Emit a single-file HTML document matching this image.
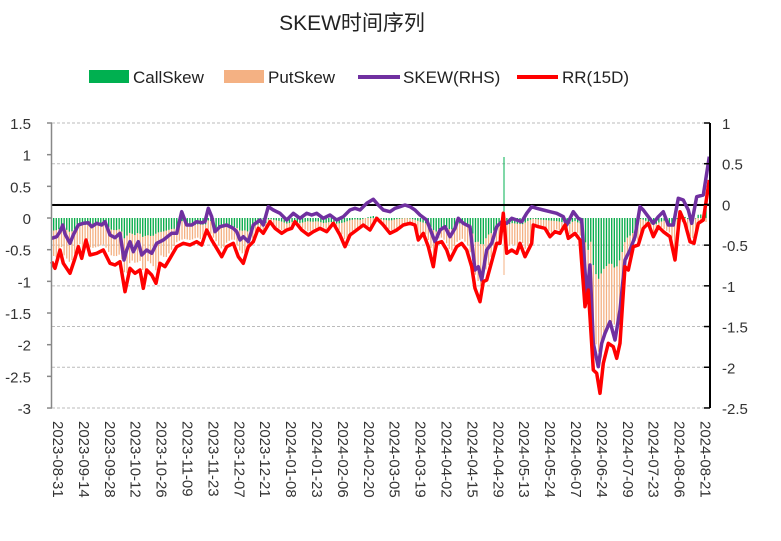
<!DOCTYPE html>
<html><head><meta charset="utf-8"><style>
body{margin:0;background:#fff;}
svg{display:block;font-family:"Liberation Sans","Noto Sans CJK SC",sans-serif;}
</style></head><body>
<svg id="s" width="781" height="541" xmlns="http://www.w3.org/2000/svg">
<rect width="781" height="541" fill="#fff"/>
<text x="352" y="30" font-size="21" text-anchor="middle" fill="#222">SKEW时间序列</text>
<rect x="89" y="70" width="40" height="13" fill="#00b050"/>
<text x="133" y="83" font-size="17" fill="#222">CallSkew</text>
<rect x="224" y="70" width="40" height="13" fill="#f4b183"/>
<text x="268" y="83" font-size="17" fill="#222">PutSkew</text>
<line x1="358" y1="77" x2="400" y2="77" stroke="#7030a0" stroke-width="4"/>
<text x="403" y="83" font-size="17" fill="#222">SKEW(RHS)</text>
<line x1="517" y1="77" x2="558" y2="77" stroke="#ff0000" stroke-width="4"/>
<text x="562" y="83" font-size="17" fill="#222">RR(15D)</text>
<g id="grid" stroke="#bbb" stroke-dasharray="3,2" stroke-width="1"></g>
<g id="bars"></g>
<line x1="51" y1="205" x2="710" y2="205" stroke="#000" stroke-width="2"/>
<polyline id="pp" fill="none" stroke="#7030a0" stroke-width="3.5" stroke-linejoin="round"/>
<polyline id="rp" fill="none" stroke="#ff0000" stroke-width="3.5" stroke-linejoin="round"/>
<line x1="51.5" y1="123" x2="51.5" y2="408" stroke="#888" stroke-width="1.5"/>
<line x1="710" y1="123" x2="710" y2="408" stroke="#000" stroke-width="2"/>
<g id="ax" font-size="15" fill="#333"></g>
</svg>
<script>
var NS="http://www.w3.org/2000/svg";
function el(t,a,p,txt){var e=document.createElementNS(NS,t);for(var k in a)e.setAttribute(k,a[k]);if(txt!=null)e.textContent=txt;document.getElementById(p).appendChild(e);return e;}
// grid at right ticks
for(var i=0;i<=7;i++){var y=123+i*40.71;el('line',{x1:52,y1:y,x2:708,y2:y},'grid');
 el('line',{x1:704,y1:y,x2:710,y2:y,stroke:'#000','stroke-width':1.5},'ax');
 el('text',{x:722,y:y+6},'ax',["1","0.5","0","-0.5","-1","-1.5","-2","-2.5"][i]);}
var ll=["1.5","1","0.5","0","-0.5","-1","-1.5","-2","-2.5","-3"];
for(var i=0;i<10;i++){var y=123+i*31.67;el('text',{x:31,y:y+6,'text-anchor':'end'},'ax',ll[i]);
 el('line',{x1:47,y1:y,x2:52,y2:y,stroke:'#888','stroke-width':1.5},'ax');}
var d=["2023-08-31","2023-09-14","2023-09-28","2023-10-12","2023-10-26","2023-11-09","2023-11-23","2023-12-07","2023-12-21","2024-01-08","2024-01-23","2024-02-06","2024-02-20","2024-03-05","2024-03-19","2024-04-02","2024-04-15","2024-04-29","2024-05-13","2024-05-24","2024-06-07","2024-06-24","2024-07-09","2024-07-23","2024-08-06","2024-08-21"];
for(var i=0;i<d.length;i++){var x=58+i*25.9;el('text',{x:0,y:0,transform:'translate('+(x-5)+',421) rotate(90)'},'ax',d[i]);}
function conv(a,ox){var r=[];for(var i=0;i<a.length;i+=2)r.push([ox+a[i]/3,110+a[i+1]/3]);return r;}
var pL=conv([155,385,170,380,180,365,188,345,195,372,210,400,220,375,235,345,250,340,265,338,275,350,290,340,305,345,315,335,330,375,345,383,360,370,372,450,380,420,390,395,400,425,415,395,425,435,440,420,455,430,470,400,490,390,515,370,530,370,545,305,560,345,575,345,590,335,605,338,615,335,625,295,635,320,645,365,660,350,680,345,700,355,710,365,720,390,730,380,745,395,760,345,780,330,790,345,805,290,820,300,840,310,860,330,880,310,900,325,920,310,935,315,950,310,970,325,990,315,1010,330,1030,320,1050,300,1065,295,1080,300,1100,280,1120,268,1135,285,1150,300,1170,305],0);
var pR=conv([15,295,30,290,45,285,60,290,75,300,90,315,110,330,125,370,135,395,150,360,165,350,180,380,195,355,205,325,220,340,240,350,255,480,265,470,275,510,290,420,305,400,320,350,335,335,350,340,365,325,380,330,395,335,410,310,425,290,440,295,460,300,480,305,500,310,520,320,530,345,550,305,565,325,575,330,590,560,600,465,610,700,625,770,635,700,645,670,660,635,675,690,690,600,705,450,720,420,735,380,750,290,760,300,775,320,790,340,805,320,820,305,835,345,850,345,865,265,880,270,895,300,905,340,920,260,940,255,958,140],390);
var rL=conv([155,455,165,475,180,420,190,460,210,490,225,445,235,410,245,445,258,390,270,435,290,430,310,420,330,460,345,465,360,455,375,545,390,475,405,490,420,480,430,535,440,480,455,495,468,520,480,460,495,470,510,445,530,410,550,400,570,405,590,395,605,405,620,360,635,390,650,415,665,440,680,410,700,400,715,440,730,460,745,410,760,395,775,355,790,370,810,335,825,355,845,370,860,360,875,355,885,335,905,360,925,375,940,365,960,355,980,365,1000,340,1020,375,1035,410,1050,375,1070,360,1090,345,1110,360,1130,325,1150,345,1170,370],0);
var rR=conv([20,360,40,345,60,340,75,345,85,390,100,370,115,410,130,470,140,400,155,395,170,420,180,450,200,410,215,400,230,420,245,470,255,535,270,575,280,515,290,510,305,455,320,400,330,400,340,310,350,430,365,420,380,430,390,400,405,440,425,400,430,345,445,350,465,355,480,380,495,365,510,370,525,345,535,385,555,370,570,390,585,590,595,540,610,780,620,790,630,850,640,760,655,700,670,710,680,745,690,700,705,470,715,480,730,410,745,405,760,355,775,340,790,380,805,350,820,365,840,380,855,450,870,305,885,340,900,395,912,400,925,340,940,330,958,210],390);
var P=pL.concat(pR),R=rL.concat(rR);
document.getElementById('pp').setAttribute('points',P.map(function(p){return p[0].toFixed(1)+','+p[1].toFixed(1)}).join(' '));
document.getElementById('rp').setAttribute('points',R.map(function(p){return p[0].toFixed(1)+','+p[1].toFixed(1)}).join(' '));
function interp(a,x){for(var i=1;i<a.length;i++){if(a[i][0]>=x){var t=(x-a[i-1][0])/(a[i][0]-a[i-1][0]||1);return a[i-1][1]+t*(a[i][1]-a[i-1][1]);}}return a[a.length-1][1];}
for(var x=53;x<=708;x+=2.62){
 var ry=interp(R,x),py=interp(P,x);
 var oy=218+(ry-218)*0.82; if(oy<222)oy=222;
 el('rect',{x:x,y:218,width:1.3,height:oy-218,fill:'#f4b183'},'bars');
 var gy=218+(py-205)*0.38;
 if(gy>=218)el('rect',{x:x,y:218,width:1.3,height:gy-218,fill:'#00b050'},'bars');
 else el('rect',{x:x,y:gy,width:1.3,height:218-gy,fill:'#00b050'},'bars');
}
el('rect',{x:503.5,y:157,width:1,height:61,fill:'#00b050'},'bars');
el('rect',{x:503.5,y:218,width:1,height:57,fill:'#f4b183'},'bars');
</script>
</body></html>
